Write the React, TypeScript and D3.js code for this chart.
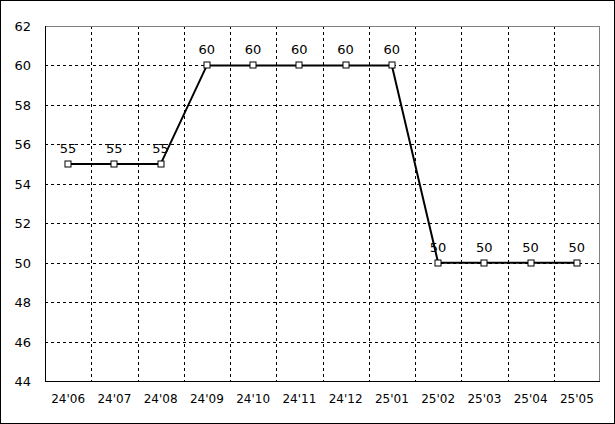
import React from "react";
import * as d3 from "d3";

const categories = ["24'06", "24'07", "24'08", "24'09", "24'10", "24'11", "24'12", "25'01", "25'02", "25'03", "25'04", "25'05"];
const values = [55, 55, 55, 60, 60, 60, 60, 60, 50, 50, 50, 50];
const yTicks = [44, 46, 48, 50, 52, 54, 56, 58, 60, 62];

const W = 615, H = 424;
const L = 45, R = 600, T = 26, B = 381;

export default function App() {
  const x = d3.scaleBand<string>().domain(categories).range([L, R]);
  const y = d3.scaleLinear().domain([44, 62]).range([B, T]);
  const cx = (c: string) => (x(c) as number) + x.bandwidth() / 2;
  const line = d3.line<number>().x((_, i) => cx(categories[i])).y((v) => y(v));
  const font = "'DejaVu Sans', sans-serif";
  return (
    <svg width={W} height={H} style={{ position: "absolute", left: 0, top: 0, background: "#fff" }}>
      <rect x={0.5} y={0.5} width={W - 1} height={H - 1} fill="#fff" stroke="#000" />
      {/* horizontal grid */}
      {yTicks.filter((t) => t !== 44 && t !== 62).map((t) => (
        <line key={"h" + t} x1={L} x2={R} y1={Math.round(y(t)) + 0.5} y2={Math.round(y(t)) + 0.5} stroke="#000" strokeDasharray="3,3" />
      ))}
      {/* vertical grid */}
      {categories.slice(1).map((c) => (
        <line key={"v" + c} x1={Math.round(x(c) as number) + 0.5} x2={Math.round(x(c) as number) + 0.5} y1={T} y2={B} stroke="#000" strokeDasharray="3,3" />
      ))}
      {/* frame */}
      <line x1={L} x2={R} y1={T + 0.5} y2={T + 0.5} stroke="#808080" />
      <line x1={R - 0.5} x2={R - 0.5} y1={T} y2={B} stroke="#808080" />
      <line x1={L + 0.5} x2={L + 0.5} y1={T} y2={B + 1} stroke="#000" />
      <line x1={L} x2={R} y1={B + 0.5} y2={B + 0.5} stroke="#000" />
      {/* y tick labels */}
      {yTicks.map((t) => (
        <text key={"yl" + t} x={31} y={y(t) + 5} textAnchor="end" fontFamily={font} fontSize={13} fill="#000">{t}</text>
      ))}
      {/* x labels */}
      {categories.map((c) => (
        <text key={"xl" + c} x={cx(c)} y={403} textAnchor="middle" fontFamily={font} fontSize={12} fill="#000">{c}</text>
      ))}
      <path d={line(values) as string} fill="none" stroke="#000" strokeWidth={2} />
      {values.map((v, i) => (
        <rect key={"m" + i} x={Math.round(cx(categories[i])) - 3} y={Math.round(y(v)) - 3} width={6} height={6} fill="#fff" stroke="#000" strokeWidth={1} />
      ))}
      {values.map((v, i) => (
        <text key={"dl" + i} x={cx(categories[i])} y={y(v) - 11} textAnchor="middle" fontFamily={font} fontSize={13} fill="#000">{v}</text>
      ))}
    </svg>
  );
}
